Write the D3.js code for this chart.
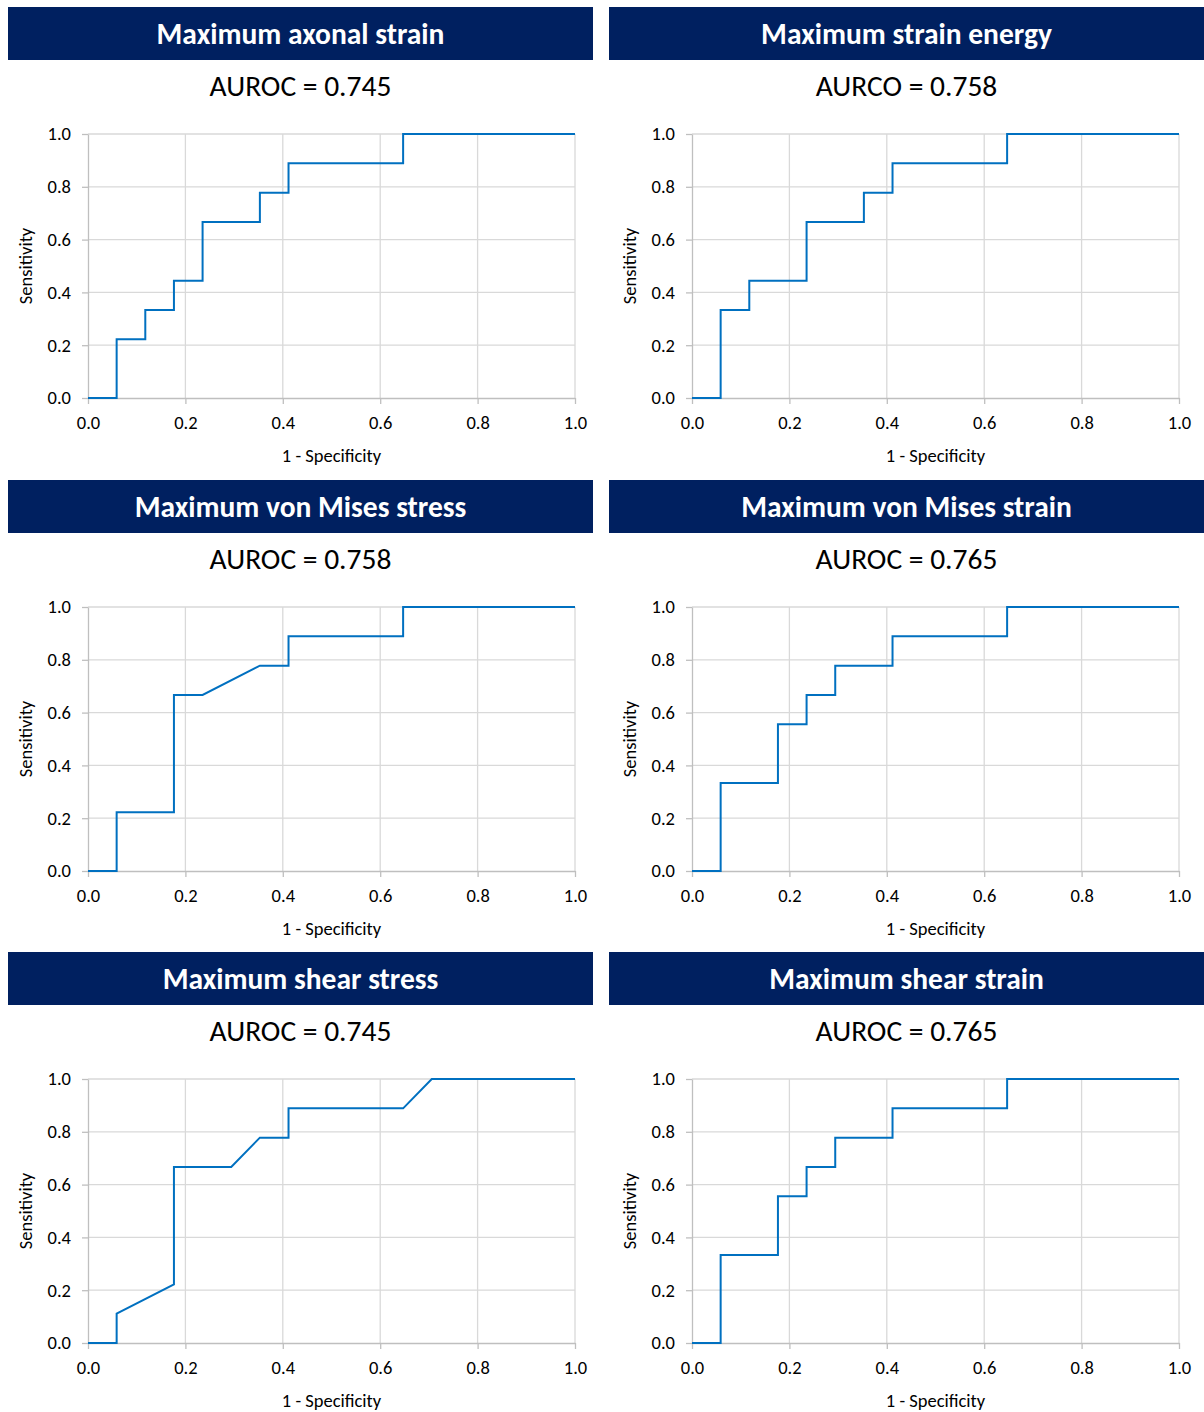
<!DOCTYPE html>
<html><head><meta charset="utf-8">
<script src="https://cdn.jsdelivr.net/npm/d3@7"></script>
<style>
body{margin:0;background:#fff;}
svg text{font-family:Carlito,Calibri,Lato,"Open Sans",sans-serif;}
</style></head>
<body><svg id="chart" width="1204" height="1412"></svg>
<script>
const titles = ["Maximum axonal strain","Maximum strain energy","Maximum von Mises stress","Maximum von Mises strain","Maximum shear stress","Maximum shear strain"];
const aucLabels = ["AUROC = 0.745","AURCO = 0.758","AUROC = 0.758","AUROC = 0.765","AUROC = 0.745","AUROC = 0.765"];
const xTicks = [0,0.2,0.4,0.6,0.8,1.0];
const yTicks = [0,0.2,0.4,0.6,0.8,1.0];
// ROC points: [1-specificity, sensitivity]
const rocAxonalStrain = [[0,0],[1/17,0],[1/17,2/9],[2/17,2/9],[2/17,3/9],[3/17,3/9],[3/17,4/9],[4/17,4/9],[4/17,6/9],[6/17,6/9],[6/17,7/9],[7/17,7/9],[7/17,8/9],[11/17,8/9],[11/17,1],[1,1]];
const rocStrainEnergy = [[0,0],[1/17,0],[1/17,3/9],[2/17,3/9],[2/17,4/9],[4/17,4/9],[4/17,6/9],[6/17,6/9],[6/17,7/9],[7/17,7/9],[7/17,8/9],[11/17,8/9],[11/17,1],[1,1]];
const rocVonMisesStress = [[0,0],[1/17,0],[1/17,2/9],[3/17,2/9],[3/17,6/9],[4/17,6/9],[6/17,7/9],[7/17,7/9],[7/17,8/9],[11/17,8/9],[11/17,1],[1,1]];
const rocVonMisesStrain = [[0,0],[1/17,0],[1/17,3/9],[3/17,3/9],[3/17,5/9],[4/17,5/9],[4/17,6/9],[5/17,6/9],[5/17,7/9],[7/17,7/9],[7/17,8/9],[11/17,8/9],[11/17,1],[1,1]];
const rocShearStress = [[0,0],[1/17,0],[1/17,1/9],[3/17,2/9],[3/17,6/9],[5/17,6/9],[6/17,7/9],[7/17,7/9],[7/17,8/9],[11/17,8/9],[12/17,1],[1,1]];
const rocShearStrain = [[0,0],[1/17,0],[1/17,3/9],[3/17,3/9],[3/17,5/9],[4/17,5/9],[4/17,6/9],[5/17,6/9],[5/17,7/9],[7/17,7/9],[7/17,8/9],[11/17,8/9],[11/17,1],[1,1]];
const rocSeries = [rocAxonalStrain,rocStrainEnergy,rocVonMisesStress,rocVonMisesStrain,rocShearStress,rocShearStrain];

const svg = d3.select("#chart");
const colHeader = [[8,593],[609,1204]];
const colPlot = [[88,575],[692,1179]];
const rowTop = [7,480,952];
const fmt = d3.format(".1f");

rocSeries.forEach((data,i)=>{
  const col = i%2, row = Math.floor(i/2);
  const top = rowTop[row];
  const g = svg.append("g");
  const [hx0,hx1] = colHeader[col];
  g.append("rect").attr("x",hx0).attr("y",top).attr("width",hx1-hx0).attr("height",53).attr("fill","#002060");
  g.append("text").attr("x",(hx0+hx1)/2).attr("y",top+27).attr("text-anchor","middle").attr("dominant-baseline","central")
    .attr("fill","#fff").attr("font-weight","bold").attr("font-size",29.5).text(titles[i]);
  g.append("text").attr("x",(hx0+hx1)/2).attr("y",top+79).attr("text-anchor","middle").attr("dominant-baseline","central")
    .attr("fill","#000").attr("font-size",29.5).text(aucLabels[i]);
  const [px0,px1] = colPlot[col];
  const py0 = top+127, py1 = top+391;
  const x = d3.scaleLinear().domain([0,1]).range([px0,px1]);
  const y = d3.scaleLinear().domain([0,1]).range([py1,py0]);
  // gridlines
  g.append("g").selectAll("line").data(xTicks.slice(1)).join("line")
    .attr("x1",d=>x(d)).attr("x2",d=>x(d)).attr("y1",py0).attr("y2",py1).attr("stroke","#d9d9d9").attr("stroke-width",1.3);
  g.append("g").selectAll("line").data(yTicks.slice(1)).join("line")
    .attr("x1",px0).attr("x2",px1).attr("y1",d=>y(d)).attr("y2",d=>y(d)).attr("stroke","#d9d9d9").attr("stroke-width",1.3);
  // axes
  const xa = g.append("g").attr("transform",`translate(0,${py1})`)
    .call(d3.axisBottom(x).tickValues(xTicks).tickFormat(fmt).tickSize(6).tickSizeOuter(0));
  const ya = g.append("g").attr("transform",`translate(${px0},0)`)
    .call(d3.axisLeft(y).tickValues(yTicks).tickFormat(fmt).tickSize(6).tickSizeOuter(0));
  [xa,ya].forEach(a=>{
    a.select(".domain").attr("stroke","#bfbfbf").attr("stroke-width",1.3);
    a.selectAll(".tick line").attr("stroke","#bfbfbf").attr("stroke-width",1.3);
    a.selectAll(".tick text").attr("font-size",18.5).attr("fill","#000").attr("font-family","Carlito,Calibri,Lato,sans-serif");
  });
  xa.selectAll(".tick text").attr("dy","0.71em").attr("y",18);
  ya.selectAll(".tick text").attr("x",-17);
  // line
  const line = d3.line().x(d=>x(d[0])).y(d=>y(d[1]));
  g.append("path").datum(data).attr("d",line).attr("fill","none").attr("stroke","#0070c0").attr("stroke-width",2);
  // axis titles
  g.append("text").attr("x",(px0+px1)/2).attr("y",top+448).attr("text-anchor","middle").attr("dominant-baseline","central")
    .attr("font-size",18.5).attr("fill","#000").text("1 - Specificity");
  g.append("text").attr("transform",`translate(${px0-63},${(py0+py1)/2}) rotate(-90)`).attr("text-anchor","middle").attr("dominant-baseline","central")
    .attr("font-size",18.5).attr("fill","#000").text("Sensitivity");
});
</script></body></html>
